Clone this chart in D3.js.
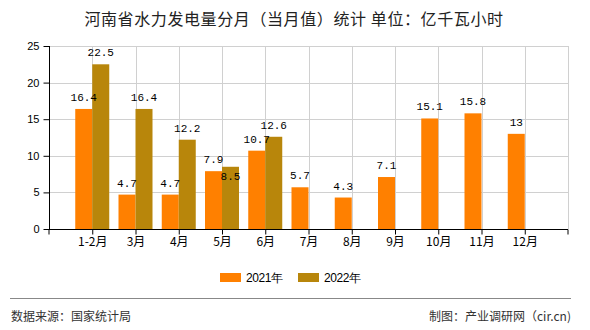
<!DOCTYPE html>
<html><head><meta charset="utf-8">
<script src="https://cdn.jsdelivr.net/npm/d3@7"></script>
<style>body{margin:0;background:#fff}svg{display:block}</style>
</head><body>
<script>
const title = "河南省水力发电量分月（当月值）统计 单位：亿千瓦小时";
const categories = ["1-2月","3月","4月","5月","6月","7月","8月","9月","10月","11月","12月"];
const series2021 = [16.4,4.7,4.7,7.9,10.7,5.7,4.3,7.1,15.1,15.8,13];
const series2022 = [22.5,16.4,12.2,8.5,12.6,null,null,null,null,null,null];
const seriesNames = ["2021年","2022年"];
const yTicks = [0,5,10,15,20,25];
const sourceText = "数据来源：国家统计局";
const makerText = "制图：产业调研网（cir.cn)";

(function(){
const W=590,H=330;
const colors=["#ff8000","#b8860b"];
const cjk='"Noto Sans CJK SC","Noto Sans",sans-serif';
const svg=d3.select("body").append("svg").attr("width",W).attr("height",H);
const pl=49,pr=568,pt=46,pb=229;
const x=d3.scalePoint().domain(categories).range([pl,pr]).padding(1);
const y=d3.scaleLinear().domain([0,25]).range([pb,pt]);
const bw=17;

svg.append("text").attr("x",294).attr("y",25).attr("text-anchor","middle")
  .attr("font-family",cjk).attr("font-size",16).attr("letter-spacing","0.6px").attr("fill","#222").text(title);

// grid
const g=svg.append("g");
g.selectAll(".hg").data(yTicks.slice(1)).join("line")
  .attr("x1",pl).attr("x2",pr).attr("y1",d=>Math.round(y(d))+0.5).attr("y2",d=>Math.round(y(d))+0.5)
  .attr("stroke","#d0d0d0");
g.selectAll(".vg").data(categories).join("line")
  .attr("x1",d=>Math.round(x(d))+0.5).attr("x2",d=>Math.round(x(d))+0.5).attr("y1",pt).attr("y2",pb)
  .attr("stroke","#d0d0d0");
g.append("line").attr("x1",pr+0.5).attr("x2",pr+0.5).attr("y1",pt).attr("y2",pb).attr("stroke","#d0d0d0");

// bars
const data=[series2021,series2022];
data.forEach((s,si)=>{
  svg.append("g").selectAll("rect").data(categories.map((c,i)=>({c,v:s[i]})).filter(d=>d.v!=null)).join("rect")
    .attr("x",d=>si===0? x(d.c)-bw : x(d.c))
    .attr("width",bw)
    .attr("y",d=>y(d.v)).attr("height",d=>pb-y(d.v))
    .attr("fill",colors[si]);
});

// labels with simple collision avoidance
const labels=[];
categories.forEach((c,i)=>{
  data.forEach((s,si)=>{
    const v=s[i]; if(v==null) return;
    const cx=si===0? x(c)-bw/2 : x(c)+bw/2;
    labels.push({cx,by:y(v)-8,v,si,i,t:y(v)});
  });
});
labels.forEach(l=>{
  if(l.si===1){
    const o=labels.find(m=>m.i===l.i&&m.si===0);
    if(o && Math.abs(o.by-l.by)<10){ l.by=l.t+13; }
  }
});
svg.append("g").selectAll("text").data(labels).join("text")
  .attr("x",d=>d.cx).attr("y",d=>d.by).attr("text-anchor","middle")
  .attr("font-family",'"Liberation Mono","DejaVu Sans Mono",monospace').attr("font-size",11).attr("fill","#000")
  .text(d=>String(d.v));

// axes
const ya=d3.axisLeft(y).tickValues(yTicks).tickSize(6).tickPadding(4);
const yg=svg.append("g").attr("transform",`translate(${pl+0.5},0)`).call(ya);
yg.select(".domain").attr("d",`M0,${pt}V${pb}`).attr("stroke","#000");
yg.selectAll("text").attr("font-family",'"Liberation Sans",Arial,sans-serif').attr("font-size",11).attr("fill","#000");
yg.selectAll(".tick line").attr("stroke","#000");

const xa=d3.axisBottom(x).tickSize(5).tickPadding(3);
const xg=svg.append("g").attr("transform",`translate(0,${pb+0.5})`).call(xa);
xg.select(".domain").attr("d",`M${pl},5V0H${pr}V5`).attr("stroke","#000");
xg.selectAll("text").attr("font-family",cjk).attr("font-size",12).attr("fill","#000");
xg.selectAll(".tick line").attr("stroke","#000");

// legend
const lg=svg.append("g");
const lx=[220,298];
seriesNames.forEach((n,i)=>{
  lg.append("rect").attr("x",lx[i]).attr("y",273).attr("width",21).attr("height",9).attr("fill",colors[i]);
  lg.append("text").attr("x",lx[i]+26).attr("y",281.5).attr("font-family",'"Liberation Sans",Arial,sans-serif')
    .attr("font-size",12).attr("letter-spacing","-0.4px").attr("fill","#000").text(n);
});

// footer
svg.append("line").attr("x1",10).attr("x2",571).attr("y1",298.5).attr("y2",298.5).attr("stroke","#888");
svg.append("text").attr("x",11).attr("y",321).attr("font-family",cjk).attr("font-size",12).attr("fill","#333").text(sourceText);
svg.append("text").attr("x",571).attr("y",321).attr("text-anchor","end").attr("font-family",cjk).attr("font-size",12).attr("fill","#333").text(makerText);
})();
</script>
</body></html>
